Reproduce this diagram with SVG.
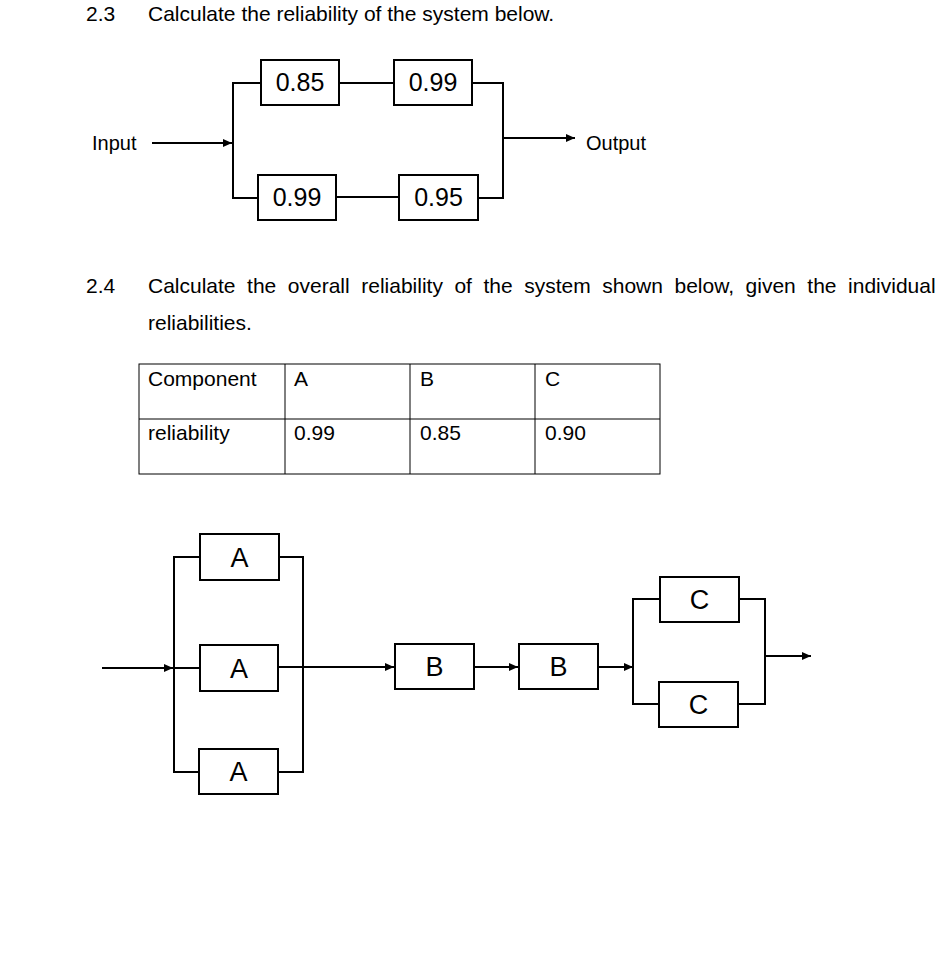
<svg xmlns="http://www.w3.org/2000/svg" width="950" height="971" viewBox="0 0 950 971">
<style>
text{font-family:"Liberation Sans",Arial,sans-serif;fill:#000}
.t{font-size:21px}
.num{font-size:25px;text-anchor:middle}
.let{font-size:27px;text-anchor:middle}
.box{fill:#fff;stroke:#000;stroke-width:2}
.ln{fill:none;stroke:#000;stroke-width:2}
.tb{fill:none;stroke:#000;stroke-width:1}
</style>
<defs>
<marker id="ah" markerUnits="userSpaceOnUse" markerWidth="10" markerHeight="8" refX="9" refY="4" orient="auto">
<path d="M0,0 L9,4 L0,8 Z" fill="#000"/>
</marker>
</defs>
<rect width="950" height="971" fill="#fff"/>
<g id="heading">
<text class="t" x="86" y="21">2.3</text>
<text class="t" x="148" y="21">Calculate the reliability of the system below.</text>
<text class="t" x="86" y="293">2.4</text>
<text class="t" x="148" y="293" word-spacing="5.7">Calculate the overall reliability of the system shown below, given the individual</text>
<text class="t" x="148" y="330">reliabilities.</text>
</g>
<g id="labels1">
<text class="t" x="92" y="150" style="font-size:20px">Input</text>
<text class="t" x="586" y="150" style="font-size:20px">Output</text>
</g>
<g id="connectors">
<path class="ln" d="M152,143 H232" marker-end="url(#ah)"/>
<path class="ln" d="M233,82 V198"/>
<path class="ln" d="M232,83 H261 M339,83 H394 M472,83 H504 M232,198 H258 M336,197 H399 M478,198 H504"/>
<path class="ln" d="M503,82 V199"/>
<path class="ln" d="M503,138 H575" marker-end="url(#ah)"/>
<path class="ln" d="M102,668 H173" marker-end="url(#ah)"/>
<path class="ln" d="M174,556 V773 M173,557 H200 M174,668 H200 M173,772 H199"/>
<path class="ln" d="M279,557 H304 M278,772 H304 M303,556 V773"/>
<path class="ln" d="M278,667 H394" marker-end="url(#ah)"/>
<path class="ln" d="M474,667 H518" marker-end="url(#ah)"/>
<path class="ln" d="M598,667 H633" marker-end="url(#ah)"/>
<path class="ln" d="M633,598 V705 M632,599 H660 M632,704 H659"/>
<path class="ln" d="M739,599 H766 M738,704 H766 M765,598 V705"/>
<path class="ln" d="M765,656 H811" marker-end="url(#ah)"/>
</g>
<g id="n085"><rect class="box" x="261" y="60" width="78" height="45"/><text class="num" x="300" y="91">0.85</text></g>
<g id="n099a"><rect class="box" x="394" y="60" width="78" height="45"/><text class="num" x="433" y="91">0.99</text></g>
<g id="n099b"><rect class="box" x="258" y="175" width="78" height="45"/><text class="num" x="297" y="206">0.99</text></g>
<g id="n095"><rect class="box" x="399" y="175" width="79" height="45"/><text class="num" x="438.5" y="206">0.95</text></g>
<g id="table">
<rect class="tb" x="139" y="364" width="521" height="110"/>
<path class="tb" d="M139,419 H660 M285,364 V474 M410,364 V474 M535,364 V474"/>
<text class="t" x="148" y="386">Component</text>
<text class="t" x="294" y="386">A</text>
<text class="t" x="420" y="386">B</text>
<text class="t" x="545" y="386">C</text>
<text class="t" x="148" y="440">reliability</text>
<text class="t" x="294" y="440">0.99</text>
<text class="t" x="420" y="440">0.85</text>
<text class="t" x="545" y="440">0.90</text>
</g>
<g id="nA1"><rect class="box" x="200" y="534" width="79" height="46"/><text class="let" x="239.5" y="567">A</text></g>
<g id="nA2"><rect class="box" x="200" y="645" width="78" height="46"/><text class="let" x="239" y="678">A</text></g>
<g id="nA3"><rect class="box" x="199" y="749" width="79" height="45"/><text class="let" x="238.5" y="781">A</text></g>
<g id="nB1"><rect class="box" x="395" y="644" width="79" height="45"/><text class="let" x="434.5" y="676">B</text></g>
<g id="nB2"><rect class="box" x="519" y="644" width="79" height="45"/><text class="let" x="558.5" y="676">B</text></g>
<g id="nC1"><rect class="box" x="660" y="577" width="79" height="45"/><text class="let" x="699.5" y="609">C</text></g>
<g id="nC2"><rect class="box" x="659" y="682" width="79" height="45"/><text class="let" x="698.5" y="714">C</text></g>
</svg>
